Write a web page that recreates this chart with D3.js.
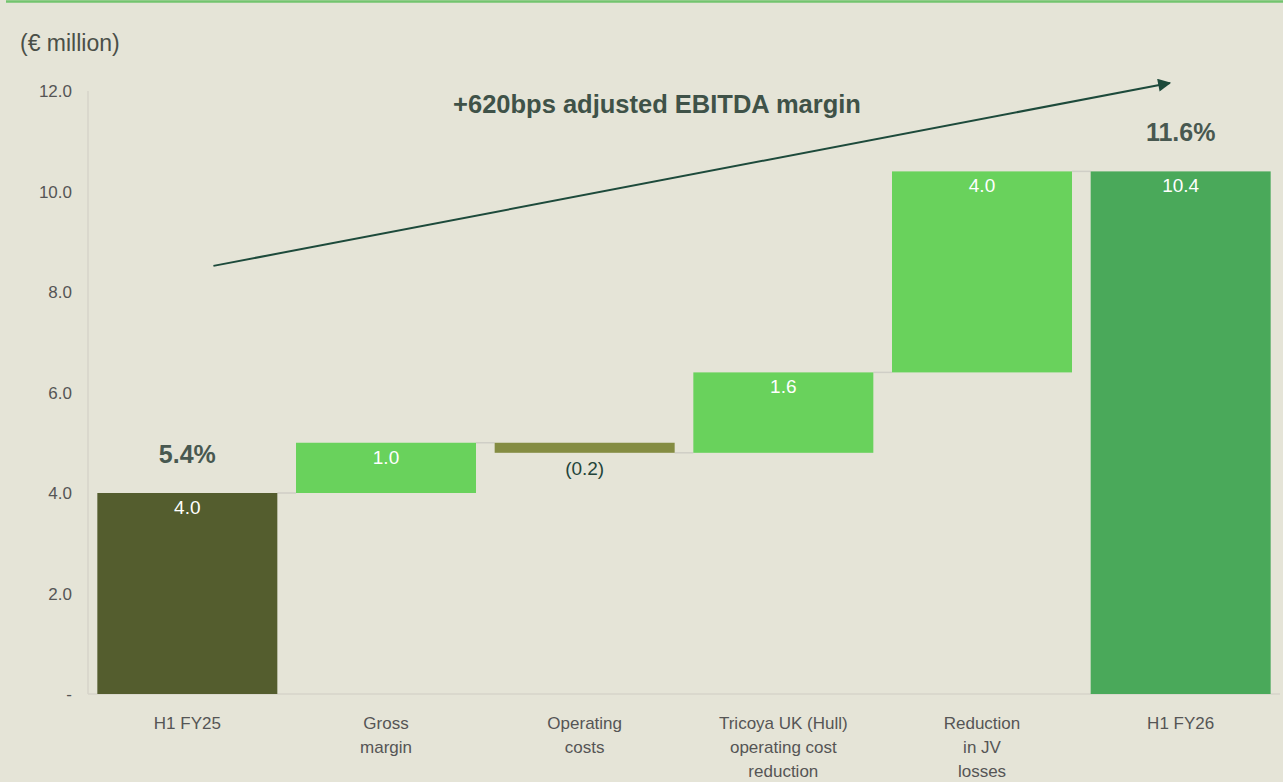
<!DOCTYPE html>
<html>
<head>
<meta charset="utf-8">
<script src="https://cdn.jsdelivr.net/npm/d3@7"></script>
<style>
  body { margin: 0; background: #e5e4d7; }
  svg { display: block; font-family: "Liberation Sans", Arial, sans-serif; }
  .tick-label { fill: #555; font-size: 17px; }
  .cat-label { fill: #555; font-size: 17px; }
</style>
</head>
<body>
<div id="chart"></div>
<script>
// Waterfall data
var categories = ['H1 FY25', 'Gross margin', 'Operating costs', 'Tricoya UK (Hull) operating cost reduction', 'Reduction in JV losses', 'H1 FY26'];
var catLines = [['H1 FY25'], ['Gross', 'margin'], ['Operating', 'costs'], ['Tricoya UK (Hull)', 'operating cost', 'reduction'], ['Reduction', 'in JV', 'losses'], ['H1 FY26']];
var deltas = [4.0, 1.0, -0.2, 1.6, 4.0, 10.4];
var kinds = ['total', 'up', 'down', 'up', 'up', 'total'];
var valueLabels = ['4.0', '1.0', '(0.2)', '1.6', '4.0', '10.4'];
var marginLabels = ['5.4%', '', '', '', '', '11.6%'];
var yTicks = [0, 2, 4, 6, 8, 10, 12];
var yTickLabels = ['-', '2.0', '4.0', '6.0', '8.0', '10.0', '12.0'];

var width = 1283, height = 782;
var margin = { left: 88, right: 3, top: 91, bottom: 88 };
var chartWidth = width - margin.left - margin.right;
var chartHeight = height - margin.top - margin.bottom;

var colors = { total0: '#545d2e', up: '#69d25c', down: '#848c42', total1: '#4aa95a' };

// build start / end for each step
var running = 0;
var rows = categories.map(function(c, i) {
    var s, e;
    if (kinds[i] === 'total') { s = 0; e = deltas[i]; running = deltas[i]; }
    else { s = running; e = running + deltas[i]; running = e; }
    return { cat: c, lines: catLines[i], start: s, end: e, kind: kinds[i], label: valueLabels[i], margin: marginLabels[i], i: i };
});

var svg = d3.select('#chart').append('svg')
    .attr('width', width)
    .attr('height', height);

svg.append('rect').attr('width', width).attr('height', height).attr('fill', '#e5e4d7');

// top rule
svg.append('line')
    .attr('x1', 6).attr('x2', width)
    .attr('y1', 1.5).attr('y2', 1.5)
    .attr('stroke', '#72c46e').attr('stroke-width', 2.5);

svg.append('text')
    .attr('x', 20).attr('y', 51)
    .attr('fill', '#4a4f48')
    .style('font-size', '23px')
    .text('(€ million)');

var xScale = d3.scaleBand()
    .domain(categories)
    .range([0, chartWidth])
    .paddingInner(0.094)
    .paddingOuter(0.047);

var yScale = d3.scaleLinear()
    .domain([0, 12])
    .range([chartHeight, 0]);

var chartG = svg.append('g')
    .attr('transform', 'translate(' + margin.left + ',' + margin.top + ')');

// axes lines
chartG.append('line')
    .attr('x1', 0).attr('x2', 0)
    .attr('y1', 0).attr('y2', chartHeight)
    .attr('stroke', '#d6d5ca').attr('stroke-width', 1.5);
chartG.append('line')
    .attr('x1', 0).attr('x2', chartWidth)
    .attr('y1', chartHeight).attr('y2', chartHeight)
    .attr('stroke', '#d6d5ca').attr('stroke-width', 1.5);

// y tick labels
chartG.selectAll('.tick-label').data(yTicks).enter().append('text')
    .attr('class', 'tick-label')
    .attr('x', -16)
    .attr('y', function(d) { return yScale(d) + 6; })
    .attr('text-anchor', 'end')
    .text(function(d, i) { return yTickLabels[i]; });

// connectors
var links = rows.slice(0, -1).map(function(d, i) { return { from: d, to: rows[i + 1] }; });
chartG.selectAll('.link').data(links).enter().append('line')
    .attr('class', 'link')
    .attr('x1', function(d) { return xScale(d.from.cat) + xScale.bandwidth(); })
    .attr('x2', function(d) { return xScale(d.to.cat); })
    .attr('y1', function(d) { return yScale(d.from.end); })
    .attr('y2', function(d) { return yScale(d.from.end); })
    .attr('stroke', '#cfcec6').attr('stroke-width', 1.5);

// bars
chartG.selectAll('.bar').data(rows).enter().append('rect')
    .attr('class', 'bar')
    .attr('x', function(d) { return xScale(d.cat); })
    .attr('width', xScale.bandwidth())
    .attr('y', function(d) { return yScale(Math.max(d.start, d.end)); })
    .attr('height', function(d) { return Math.abs(yScale(d.start) - yScale(d.end)); })
    .attr('fill', function(d) {
        if (d.kind === 'total') return d.i === 0 ? colors.total0 : colors.total1;
        return d.kind === 'up' ? colors.up : colors.down;
    });

// value labels
chartG.selectAll('.val').data(rows).enter().append('text')
    .attr('class', 'val')
    .attr('x', function(d) { return xScale(d.cat) + xScale.bandwidth() / 2; })
    .attr('y', function(d) {
        if (d.kind === 'down') return yScale(d.end) + 22;
        return yScale(Math.max(d.start, d.end)) + 21;
    })
    .attr('text-anchor', 'middle')
    .attr('fill', function(d) { return d.kind === 'down' ? '#24443a' : '#ffffff'; })
    .style('font-size', '19px')
    .text(function(d) { return d.label; });

// margin % labels
chartG.selectAll('.pct').data(rows.filter(function(d) { return d.margin; })).enter().append('text')
    .attr('class', 'pct')
    .attr('x', function(d) { return xScale(d.cat) + xScale.bandwidth() / 2; })
    .attr('y', function(d) { return yScale(d.end) - 30; })
    .attr('text-anchor', 'middle')
    .attr('fill', '#485850')
    .style('font-size', '25px')
    .style('font-weight', 'bold')
    .text(function(d) { return d.margin; });

// category labels
var catG = chartG.selectAll('.cat').data(rows).enter().append('text')
    .attr('class', 'cat-label')
    .attr('text-anchor', 'middle')
    .attr('transform', function(d) { return 'translate(' + (xScale(d.cat) + xScale.bandwidth() / 2) + ',' + (chartHeight + 35) + ')'; });
catG.selectAll('tspan').data(function(d) { return d.lines; }).enter().append('tspan')
    .attr('x', 0)
    .attr('dy', function(d, i) { return i === 0 ? 0 : 24; })
    .text(function(d) { return d; });

// arrow annotation
svg.append('defs').append('marker')
    .attr('id', 'arrowhead')
    .attr('viewBox', '0 0 10 10')
    .attr('refX', 9).attr('refY', 5)
    .attr('markerWidth', 7).attr('markerHeight', 6.5)
    .attr('markerUnits', 'strokeWidth')
    .attr('orient', 'auto')
    .append('path')
    .attr('d', 'M0,0 L10,5 L0,10 Z')
    .attr('fill', '#1d4a3b');

var first = rows[0], last = rows[rows.length - 1];
chartG.append('line')
    .attr('x1', xScale(first.cat) + xScale.bandwidth() * 0.645)
    .attr('y1', yScale(8.52))
    .attr('x2', xScale(last.cat) + xScale.bandwidth() * 0.44)
    .attr('y2', yScale(12.16))
    .attr('stroke', '#1d4a3b')
    .attr('stroke-width', 2)
    .attr('marker-end', 'url(#arrowhead)');

chartG.append('text')
    .attr('x', (xScale(categories[2]) + xScale(categories[3]) + xScale.bandwidth()) / 2 - 27)
    .attr('y', yScale(11.56))
    .attr('text-anchor', 'middle')
    .attr('fill', '#3f5248')
    .style('font-size', '25.5px')
    .style('font-weight', 'bold')
    .text('+620bps adjusted EBITDA margin');
</script>
</body>
</html>
